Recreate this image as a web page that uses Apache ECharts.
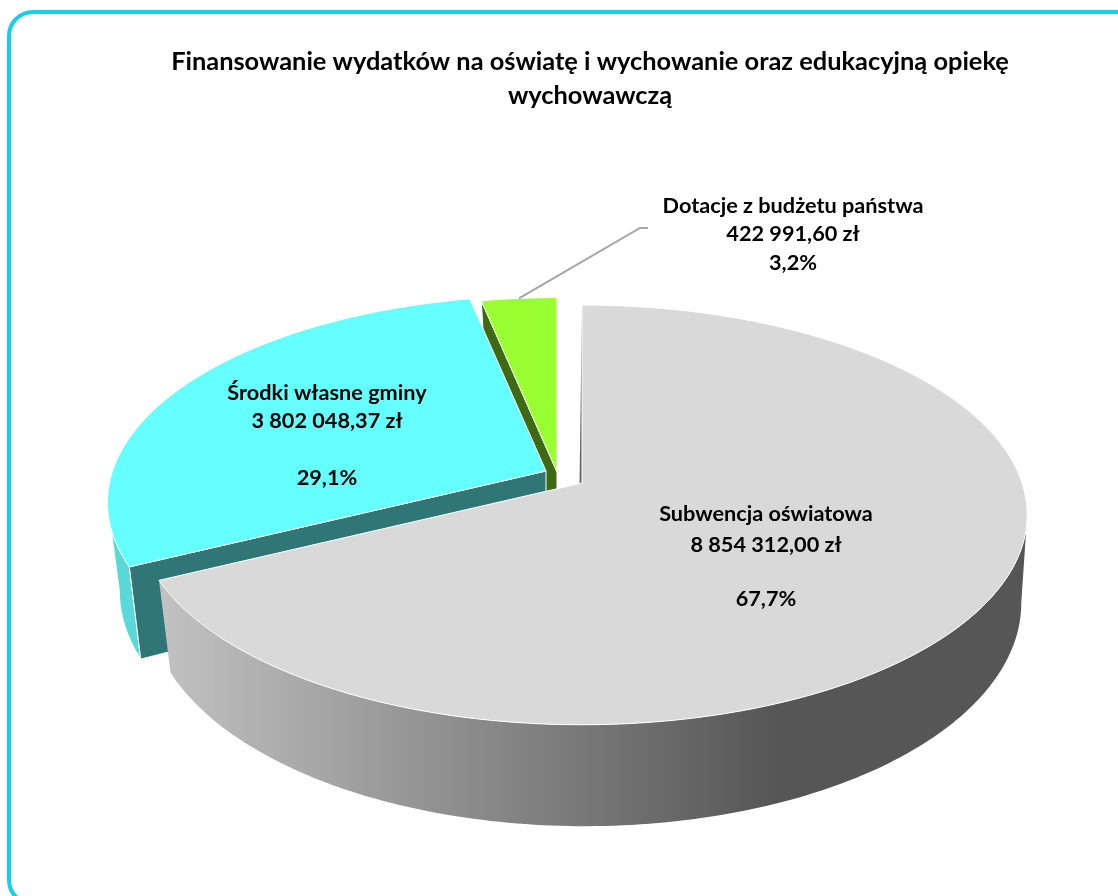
<!DOCTYPE html>
<html lang="pl">
	<head>
		<meta charset="UTF-8" />
		<title>Finansowanie</title>
		<style>
			html, body { margin: 0; padding: 0; background: #fff; }
			#main { width: 1118px; height: 896px; }
		</style>
	</head>
	<body>
		<div id="main"></div>
		<script src="https://cdn.jsdelivr.net/npm/echarts@6/dist/echarts.min.js"></script>
		<script>
			var chartTitle = "Finansowanie wydatków na oświatę i wychowanie oraz edukacyjną opiekę\nwychowawczą";
			var categories = ["Subwencja oświatowa", "Środki własne gminy", "Dotacje z budżetu państwa"];
			var values = [8854312.0, 3802048.37, 422991.6];

			// 3D look: each slice is a tilted disc with perspective
			var radiusX = 440, radiusY = 205, persp = 0.152, depth = 86, lowerScale = 0.98, lowerShift = 3;
			var apexes = [[582, 483], [546, 471], [557, 472]];
			var scales = [1, 0.985, 0.98];
			var topColors = ["#d9d9d9", "#66ffff", "#99ff33"];
			var wallColors = [null, "#5ad9d9", "#3f6a14"];
			var cutColors = [null, "#307676", "#3f6a14"];
			var labelPos = [
				[766, 514, 545, 599],
				[327, 393, 421, 478],
				[793, 206, 234, 263],
			];
			var leaderEnd = [[640, 228], [648, 228]];
			var drawOrder = [2, 1, 0];

			var total = values.reduce(function (a, b) { return a + b; }, 0);
			var startAngles = [];
			values.reduce(function (sum, v, i) {
				startAngles[i] = (sum / total) * Math.PI * 2;
				return sum + v;
			}, 0);

			var money = function (v) {
				var parts = v.toFixed(2).split(".");
				return parts[0].replace(/\B(?=(\d{3})+$)/g, " ") + "," + parts[1] + " zł";
			};
			var percent = function (v) {
				return ((v / total) * 100).toFixed(1).replace(".", ",") + "%";
			};

			// angle clockwise from 12 o'clock -> screen point
			var rim = function (i, a) {
				var w = 1 + persp * Math.cos(a);
				return [
					apexes[i][0] + (scales[i] * radiusX * Math.sin(a)) / w,
					apexes[i][1] - (scales[i] * radiusY * Math.cos(a)) / w,
				];
			};
			var lower = function (i, p, a) {
				var w = 1 + persp * Math.cos(a);
				return [apexes[i][0] + (p[0] - apexes[i][0]) * lowerScale + lowerShift, p[1] + depth / w];
			};
			var arc = function (i, a0, a1) {
				var pts = [];
				var n = Math.max(2, Math.ceil(((a1 - a0) * 180) / Math.PI));
				for (var k = 0; k <= n; k++) {
					pts.push(a0 + ((a1 - a0) * k) / n);
				}
				return pts;
			};

			var greyWall = new echarts.graphic.LinearGradient(0, 0, 1, 0, [
				{ offset: 0, color: "#c2c2c2" },
				{ offset: 0.71, color: "#565656" },
				{ offset: 1, color: "#565656" },
			]);

			function renderSlice(params, api) {
				var i = api.value(0);
				var a0 = startAngles[i];
				var a1 = a0 + (api.value(1) / total) * Math.PI * 2;
				var apex = apexes[i];
				var children = [];
				var line = { stroke: "#fff", lineWidth: 1 };

				// outer wall, only the part facing the viewer
				var tangent = Math.acos(-persp);
				var w0 = Math.max(a0, tangent);
				var w1 = Math.min(a1, Math.PI * 2 - tangent);
				if (w1 > w0) {
					var angs = arc(i, w0, w1);
					var upper = angs.map(function (a) { return rim(i, a); });
					var low = angs.map(function (a) { return lower(i, rim(i, a), a); }).reverse();
					children.push({
						type: "polygon",
						shape: { points: upper.concat(low) },
						style: { fill: i === 0 ? greyWall : wallColors[i], stroke: "#fff", lineWidth: i === 0 ? 0 : 1 },
					});
				}

				// cut wall on the slice's first edge
				if (cutColors[i]) {
					var edge = rim(i, a0);
					children.push({
						type: "polygon",
						shape: {
							points: [
								apex,
								edge,
								lower(i, edge, a0),
								[apex[0], apex[1] + depth],
							],
						},
						style: { fill: cutColors[i], stroke: "#fff", lineWidth: 1 },
					});
				}

				// thin dark sliver on the grey slice start edge
				if (i === 0) {
					children.push({
						type: "polygon",
						shape: { points: [rim(i, a0), apex, [apex[0] - 2.5, apex[1] + 1]] },
						style: { fill: "#666" },
					});
				}

				// top face
				var topPts = [apex].concat(arc(i, a0, a1).map(function (a) { return rim(i, a); }));
				children.push({
					type: "polygon",
					shape: { points: topPts },
					style: { fill: topColors[i], stroke: line.stroke, lineWidth: line.lineWidth },
				});

				// leader line for the small slice
				if (i === 2) {
					children.push({
						type: "polyline",
						shape: { points: [rim(i, (a0 + a1) / 2)].concat(leaderEnd) },
						style: { fill: "none", stroke: "#a6a6a6", lineWidth: 2 },
					});
				}

				// labels
				var pos = labelPos[i];
				var texts = [categories[i], money(api.value(1)), percent(api.value(1))];
				texts.forEach(function (t, k) {
					children.push({
						type: "text",
						style: {
							text: t,
							x: pos[0],
							y: pos[k + 1],
							textAlign: "center",
							textVerticalAlign: "middle",
							fontFamily: "Lato",
							fontWeight: "bold",
							fontSize: 21.7,
							fill: "#000",
						},
					});
				});

				return { type: "group", children: children };
			}

			var myChart = echarts.init(document.getElementById("main"));
			var option = {
				animation: false,
				backgroundColor: "#fff",
				title: {
					text: chartTitle,
					left: 585,
					top: 40,
					textAlign: "center",
					textStyle: {
						fontFamily: "Lato",
						fontWeight: "bold",
						fontSize: 25.4,
						lineHeight: 34,
						color: "#000",
					},
				},
				graphic: [
					{
						type: "rect",
						shape: { x: 9, y: 12, width: 1135, height: 892, r: 24 },
						style: { fill: "none", stroke: "#17cfe8", lineWidth: 4 },
						silent: true,
					},
				],
				series: [
					{
						type: "custom",
						coordinateSystem: "none",
						silent: true,
						data: drawOrder.map(function (i) { return [i, values[i]]; }),
						renderItem: renderSlice,
					},
				],
			};
			myChart.setOption(option);
		</script>
	</body>
</html>
